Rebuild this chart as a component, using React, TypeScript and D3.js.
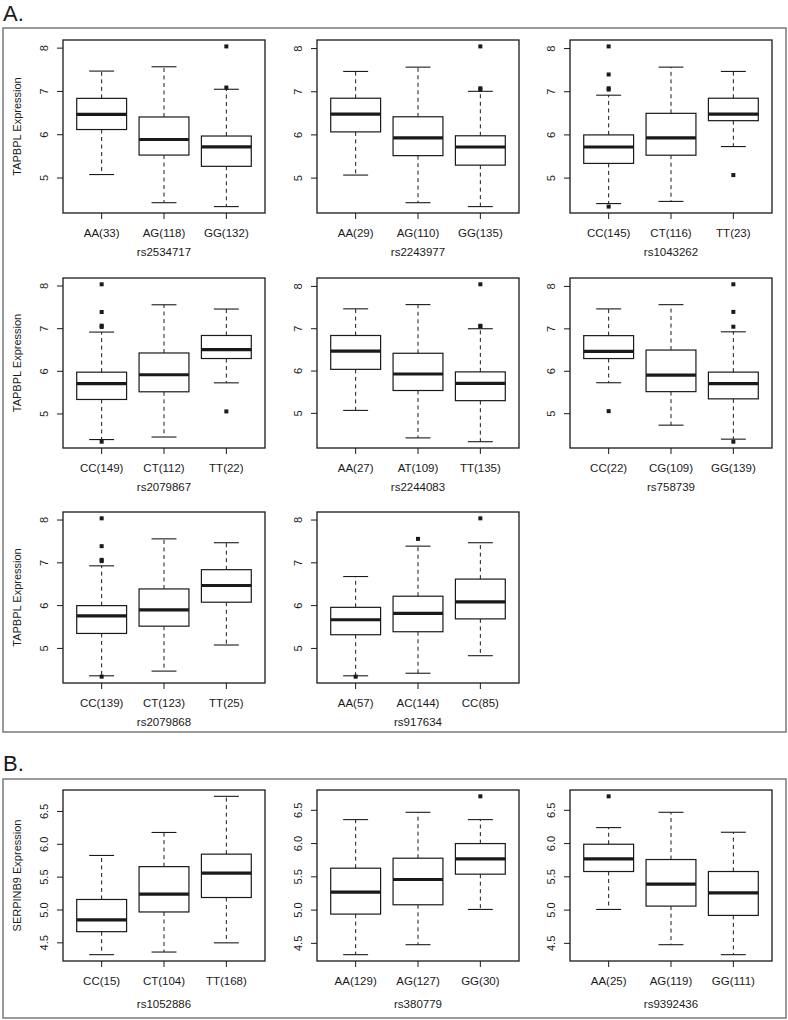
import React from "react";
import * as d3 from "d3";

// ---------- Data ----------
// Each box: [lower whisker, Q1, median, Q3, upper whisker]
const snpsA = ["rs2534717", "rs2243977", "rs1043262", "rs2079867", "rs2244083", "rs758739", "rs2079868", "rs917634"];
const genotypesA = [
  ["AA(33)", "AG(118)", "GG(132)"],
  ["AA(29)", "AG(110)", "GG(135)"],
  ["CC(145)", "CT(116)", "TT(23)"],
  ["CC(149)", "CT(112)", "TT(22)"],
  ["AA(27)", "AT(109)", "TT(135)"],
  ["CC(22)", "CG(109)", "GG(139)"],
  ["CC(139)", "CT(123)", "TT(25)"],
  ["AA(57)", "AC(144)", "CC(85)"],
];
const statsA = [
  [[5.08, 6.12, 6.47, 6.84, 7.47], [4.43, 5.53, 5.89, 6.41, 7.57], [4.34, 5.27, 5.72, 5.97, 7.05]],
  [[5.07, 6.07, 6.48, 6.85, 7.47], [4.43, 5.52, 5.93, 6.42, 7.57], [4.34, 5.30, 5.72, 5.98, 7.01]],
  [[4.41, 5.34, 5.72, 6.00, 6.92], [4.46, 5.53, 5.93, 6.50, 7.57], [5.73, 6.33, 6.48, 6.85, 7.47]],
  [[4.40, 5.34, 5.71, 5.98, 6.92], [4.46, 5.52, 5.92, 6.43, 7.56], [5.73, 6.30, 6.51, 6.84, 7.46]],
  [[5.07, 6.04, 6.47, 6.84, 7.47], [4.42, 5.54, 5.93, 6.42, 7.57], [4.33, 5.30, 5.71, 5.98, 7.00]],
  [[5.73, 6.30, 6.47, 6.84, 7.47], [4.73, 5.52, 5.91, 6.50, 7.57], [4.40, 5.35, 5.71, 5.98, 6.93]],
  [[4.36, 5.35, 5.76, 6.00, 6.93], [4.47, 5.52, 5.90, 6.39, 7.56], [5.08, 6.08, 6.47, 6.84, 7.47]],
  [[4.36, 5.32, 5.67, 5.96, 6.68], [4.42, 5.39, 5.82, 6.22, 7.39], [4.83, 5.69, 6.09, 6.62, 7.47]],
];
const outliersA = [
  [[], [], [8.04, 7.09]],
  [[], [], [8.05, 7.08, 7.05]],
  [[8.05, 7.40, 7.08, 7.05, 4.34], [], [5.07]],
  [[8.04, 7.39, 7.07, 7.04, 4.35], [], [5.06]],
  [[], [], [8.05, 7.07, 7.05]],
  [[5.06], [], [8.05, 7.40, 7.05, 4.34]],
  [[8.04, 7.39, 7.07, 7.04, 4.34], [], []],
  [[4.34], [7.56], [8.04]],
];
const ticksA = [5, 6, 7, 8];

const snpsB = ["rs1052886", "rs380779", "rs9392436"];
const genotypesB = [
  ["CC(15)", "CT(104)", "TT(168)"],
  ["AA(129)", "AG(127)", "GG(30)"],
  ["AA(25)", "AG(119)", "GG(111)"],
];
const statsB = [
  [[4.32, 4.67, 4.85, 5.16, 5.83], [4.36, 4.97, 5.24, 5.66, 6.18], [4.50, 5.19, 5.56, 5.85, 6.73]],
  [[4.33, 4.94, 5.27, 5.63, 6.36], [4.48, 5.08, 5.46, 5.78, 6.47], [5.01, 5.54, 5.77, 6.00, 6.36]],
  [[5.01, 5.58, 5.77, 5.99, 6.24], [4.48, 5.06, 5.39, 5.76, 6.47], [4.33, 4.92, 5.26, 5.58, 6.17]],
];
const outliersB = [
  [[], [], []],
  [[], [], [6.71]],
  [[6.71], [], []],
];
const ticksB = [4.5, 5.0, 5.5, 6.0, 6.5];

// ---------- Layout ----------
const W = 788;
const H = 1020;
const FONT = "'Liberation Sans', Arial, Helvetica, sans-serif";
const colLeft = [63, 317, 570];
const plotW = 202;
const rowTopA = [40, 278, 512];
const rowBotA = [213, 448, 683];
const rowTopB = 790;
const rowBotB = 961;
const INK = "#1a1a1a";

type PanelProps = {
  left: number;
  top: number;
  bottom: number;
  stats: number[][];
  outliers: number[][];
  labels: string[];
  snp: string;
  ticks: number[];
  fmt: (v: number) => string;
  yTitle?: string;
  subOffset: number;
};

function Panel({ left, top, bottom, stats, outliers, labels, snp, ticks, fmt, yTitle, subOffset }: PanelProps) {
  const all: number[] = [];
  stats.forEach((s) => all.push(s[0], s[4]));
  outliers.forEach((o) => all.push(...o));
  const mn = d3.min(all)!;
  const mx = d3.max(all)!;
  const ext = (mx - mn) * 0.04;
  const y = d3.scaleLinear().domain([mn - ext, mx + ext]).range([bottom, top]);
  const x = d3.scaleLinear().domain([0.5 - 0.12, 3.5 + 0.12]).range([left, left + plotW]);
  const bw = x(1.4) - x(1);
  const sw = x(1.2) - x(1);
  const midY = (top + bottom) / 2;
  return (
    <g>
      {stats.map((s, i) => {
        const cx = x(i + 1);
        return (
          <g key={i}>
            <line x1={cx} x2={cx} y1={y(s[3])} y2={y(s[4])} stroke={INK} strokeWidth={1} strokeDasharray="4,3.5" />
            <line x1={cx} x2={cx} y1={y(s[1])} y2={y(s[0])} stroke={INK} strokeWidth={1} strokeDasharray="4,3.5" />
            <line x1={cx - sw} x2={cx + sw} y1={y(s[4])} y2={y(s[4])} stroke={INK} strokeWidth={1.1} />
            <line x1={cx - sw} x2={cx + sw} y1={y(s[0])} y2={y(s[0])} stroke={INK} strokeWidth={1.1} />
            <rect x={cx - bw} y={y(s[3])} width={2 * bw} height={y(s[1]) - y(s[3])} fill="white" stroke={INK} strokeWidth={1.2} />
            <line x1={cx - bw} x2={cx + bw} y1={y(s[2])} y2={y(s[2])} stroke={INK} strokeWidth={3.2} />
            {outliers[i].map((v, k) => (
              <rect key={k} x={cx - 2} y={y(v) - 2} width={4} height={4} fill={INK} />
            ))}
            <line x1={cx} x2={cx} y1={bottom} y2={bottom + 6} stroke={INK} strokeWidth={1} />
            <text x={cx} y={bottom + 24} textAnchor="middle" fontSize={11.5} fill={INK}>{labels[i]}</text>
          </g>
        );
      })}
      {ticks.map((t) => (
        <g key={t}>
          <line x1={left - 6} x2={left} y1={y(t)} y2={y(t)} stroke={INK} strokeWidth={1} />
          <text transform={`translate(${left - 15},${y(t)}) rotate(-90)`} textAnchor="middle" fontSize={11} fill={INK}>{fmt(t)}</text>
        </g>
      ))}
      <rect x={left} y={top} width={plotW} height={bottom - top} fill="none" stroke={INK} strokeWidth={1.3} />
      <text x={left + plotW / 2} y={bottom + subOffset} textAnchor="middle" fontSize={11.5} fill={INK}>{snp}</text>
      {yTitle && (
        <text transform={`translate(21,${midY}) rotate(-90)`} textAnchor="middle" fontSize={11} fill={INK}>{yTitle}</text>
      )}
    </g>
  );
}

export default function App() {
  const fmtA = d3.format("d");
  const fmtB = d3.format(".1f");
  return (
    <svg width={W} height={H} style={{ position: "absolute", left: 0, top: 0, background: "white" }} fontFamily={FONT}>
      <rect x={0} y={0} width={W} height={H} fill="white" />
      <text x={3} y={21} fontSize={22} fill={INK}>A.</text>
      <rect x={3} y={28} width={783} height={704} fill="none" stroke="#7a7a7a" strokeWidth={1.5} />
      {snpsA.map((snp, i) => {
        const r = Math.floor(i / 3);
        const c = i % 3;
        return (
          <Panel
            key={snp}
            left={colLeft[c]}
            top={rowTopA[r]}
            bottom={rowBotA[r]}
            stats={statsA[i]}
            outliers={outliersA[i]}
            labels={genotypesA[i]}
            snp={snp}
            ticks={ticksA}
            fmt={fmtA}
            yTitle={c === 0 ? "TAPBPL Expression" : undefined}
            subOffset={43}
          />
        );
      })}
      <text x={3} y={771} fontSize={22} fill={INK}>B.</text>
      <rect x={3} y={779} width={783} height={239} fill="none" stroke="#7a7a7a" strokeWidth={1.5} />
      {snpsB.map((snp, i) => (
        <Panel
          key={snp}
          left={colLeft[i]}
          top={rowTopB}
          bottom={rowBotB}
          stats={statsB[i]}
          outliers={outliersB[i]}
          labels={genotypesB[i]}
          snp={snp}
          ticks={ticksB}
          fmt={fmtB}
          yTitle={i === 0 ? "SERPINB9 Expression" : undefined}
          subOffset={47}
        />
      ))}
    </svg>
  );
}
